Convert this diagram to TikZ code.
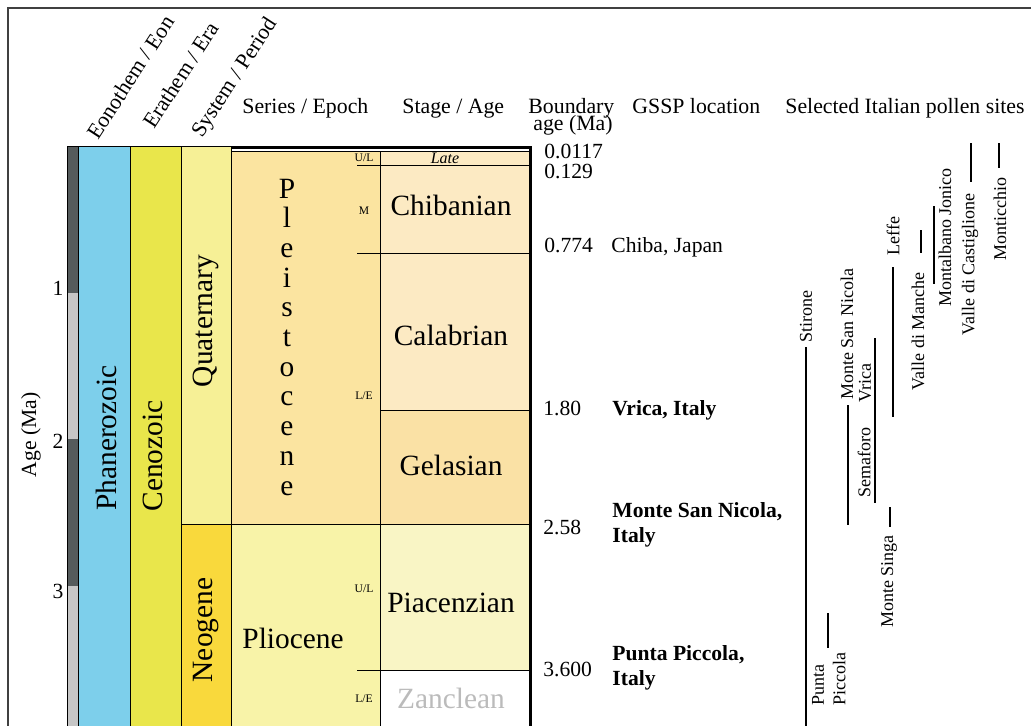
\documentclass[tikz,border=0pt]{standalone}
\usepackage{fontspec}
\setmainfont{Liberation Serif}
\definecolor{phanero}{HTML}{7DCFEB}
\definecolor{cenozoic}{HTML}{E9E64B}
\definecolor{quaternary}{HTML}{F6F096}
\definecolor{neogene}{HTML}{F9D93C}
\definecolor{pleisto}{HTML}{FBE4A0}
\definecolor{plio}{HTML}{F8F3A8}
\definecolor{chiba}{HTML}{FCEAC3}
\definecolor{gelas}{HTML}{FAE1A5}
\definecolor{piacen}{HTML}{F9F5C5}
\definecolor{stripdark}{HTML}{555B5C}
\definecolor{striplight}{HTML}{C6C6C6}
\definecolor{zgray}{HTML}{BBBBBB}
\begin{document}
\begin{tikzpicture}[x=0.5pt, y=-0.5pt,
    hdr/.style={font=\fontsize{10.9}{12}\selectfont, anchor=base west, inner sep=0},
    stg/.style={font=\fontsize{14.7}{17}\selectfont, anchor=base, inner sep=0},
    colname/.style={font=\fontsize{14.7}{17}\selectfont, rotate=90, inner sep=0},
    sub/.style={font=\fontsize{5.8}{6}\selectfont, inner sep=0},
    age/.style={font=\fontsize{10.8}{12}\selectfont, anchor=base west, inner sep=0},
    gssp/.style={age, font=\fontsize{10.8}{12}\selectfont\bfseries},
    site/.style={font=\fontsize{9}{10.8}\selectfont, rotate=90, inner sep=0},
    bar/.style={line width=1.3pt},
    box/.style={draw=black, line width=0.5pt}]
    \useasboundingbox (0,0) rectangle (1031,725);
    \clip (0,0) rectangle (1031,725);
    \draw[line width=0.8pt, black!75] (8,740) -- (8,8) -- (1040,8);

    \fill[stripdark] (67,146) rectangle (78,293);
    \fill[striplight] (67,293) rectangle (78,439);
    \fill[stripdark] (67,439) rectangle (78,586);
    \fill[striplight] (67,586) rectangle (78,740);
    \draw[line width=0.3pt] (67,146) rectangle (78,740);
    \node[age, anchor=center] (t1) at (58,288) {1};
    \node[age, anchor=center] (t2) at (58,441) {2};
    \node[age, anchor=center] (t3) at (58,591) {3};
    \node[age, anchor=center, rotate=90] (agelabel) at (31,435) {Age (Ma)};

    \filldraw[box, fill=phanero] (78,146) rectangle (130,740);
    \filldraw[box, fill=cenozoic] (130,146) rectangle (181,740);
    \filldraw[box, fill=quaternary] (181,146) rectangle (231,524.5);
    \filldraw[box, fill=neogene] (181,524.5) rectangle (231,740);
    \node[colname] (phan) at (106,438) {Phanerozoic};
    \node[colname] (ceno) at (153,456) {Cenozoic};
    \node[colname] (quat) at (206,321) {Quaternary};
    \node[colname] (neog) at (206,630) {Neogene};

    \fill[pleisto] (231,151) rectangle (380,524.5);
    \fill[plio] (231,524.5) rectangle (380,740);
    \fill[chiba] (380,151) rectangle (530,410);
    \fill[gelas] (380,410) rectangle (530,524.5);
    \fill[piacen] (380,524.5) rectangle (530,670);
    \draw[line width=1.2pt] (231,147.5) -- (532,147.5);
    \draw[line width=0.4pt] (231,151) -- (530,151);
    \draw[box] (231,146) -- (231,740);
    \draw[box] (380,151) -- (380,740);
    \draw[box] (357,165) -- (530,165);
    \draw[box] (357,253) -- (530,253);
    \draw[box] (380,410) -- (530,410);
    \draw[box] (181,524.5) -- (530,524.5);
    \draw[box] (357,670) -- (530,670);
    \draw[line width=1.1pt] (530.5,146) -- (530.5,740);

    \foreach \ch [count=\i from 0] in {P,l,e,i,s,t,o,c,e,n,e}
        \node[stg] (pl\i) at (287,198+29.7*\i) {\ch};
    \node[stg, anchor=base west] (pliocene) at (242,648) {Pliocene};
    \node[sub] (ul1) at (364,158) {U/L};
    \node[sub] (m1) at (364,211) {M};
    \node[sub] (le1) at (364,396) {L/E};
    \node[sub] (ul2) at (364,589) {U/L};
    \node[sub] (le2) at (364,699) {L/E};

    \node[stg, font=\fontsize{8}{9}\selectfont\itshape] (late) at (445,163) {Late};
    \node[stg] (chibanian) at (451,215) {Chibanian};
    \node[stg] (calabrian) at (451,345) {Calabrian};
    \node[stg] (gelasian) at (451,475) {Gelasian};
    \node[stg] (piacenzian) at (451,612) {Piacenzian};
    \node[stg, text=zgray] (zanclean) at (451,708) {Zanclean};

    \node[hdr, rotate=57] (eon) at (98,141) {Eonothem / Eon};
    \node[hdr, rotate=57] (era) at (154,130) {Erathem / Era};
    \node[hdr, rotate=57] (period) at (202,139) {System / Period};
    \node[hdr] (epoch) at (242,113) {Series / Epoch};
    \node[hdr] (stage) at (402,113) {Stage / Age};
    \node[hdr] (bound) at (528,113) {Boundary};
    \node[hdr, anchor=base east] (bound2) at (613,130) {age (Ma)};
    \node[hdr] (location) at (632,113) {GSSP location};
    \node[hdr] (pollen) at (785,113) {Selected Italian pollen sites};

    \node[age] (a1) at (544,158) {0.0117};
    \node[age] (a2) at (544,178) {0.129};
    \node[age] (a3) at (544,252) {0.774};
    \node[age] (a4) at (543,415) {1.80};
    \node[age] (a5) at (543,534) {2.58};
    \node[age] (a6) at (543,676) {3.600};
    \node[age] (chibajp) at (611,252) {Chiba, Japan};
    \node[gssp] (vrica) at (612,415) {Vrica, Italy};
    \node[gssp] (msn) at (612,517) {Monte San Nicola,};
    \node[gssp] (msn2) at (612,542) {Italy};
    \node[gssp] (pp) at (612,660) {Punta Piccola,};
    \node[gssp] (pp2) at (612,685) {Italy};

    \draw[bar] (806,347) -- (806,740);
    \node[site, anchor=west] (stirone) at (806,343) {Stirone};
    \draw[bar] (828,613) -- (828,648);
    \node[site, anchor=south west, align=left] (puntap) at (846,706) {Punta\\Piccola};
    \draw[bar] (848,405) -- (848,525);
    \node[site, anchor=west] (montesn) at (847,400) {Monte San Nicola};
    \draw[bar] (875,338) -- (875,503);
    \node[site, anchor=west] (vricas) at (865,403) {Vrica};
    \node[site, anchor=west] (semaforo) at (864,498) {Semaforo};
    \draw[bar] (890,507) -- (890,527);
    \node[site, anchor=east] (singa) at (889,535) {Monte Singa};
    \draw[bar] (893,267) -- (893,417);
    \node[site, anchor=west] (leffe) at (893,256) {Leffe};
    \draw[bar] (921,230) -- (921,253);
    \node[site, anchor=east] (manche) at (918,272) {Valle di Manche};
    \draw[bar] (934,206) -- (934,284);
    \node[site, anchor=west] (jonico) at (945,307) {Montalbano Jonico};
    \draw[bar] (971,143) -- (971,182);
    \node[site, anchor=east] (castig) at (970,193) {Valle di Castiglione};
    \draw[bar] (999,143) -- (999,168);
    \node[site, anchor=east] (monticchio) at (1000,177) {Monticchio};
\end{tikzpicture}
\end{document}
